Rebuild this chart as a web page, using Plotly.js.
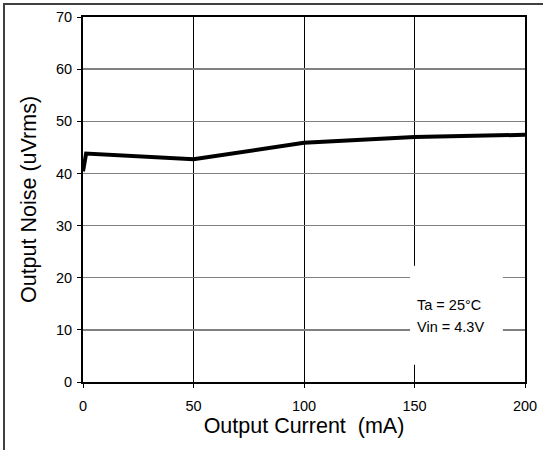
<!DOCTYPE html>
<html>
<head>
<meta charset="utf-8">
<script src="https://cdn.plot.ly/plotly-3.0.1.min.js"></script>
<style>
  html, body { margin: 0; padding: 0; background: #fff; }
  #wrap { position: relative; width: 543px; height: 450px; overflow: hidden; }
  #frame { position: absolute; left: 3px; top: 3px; width: 560px; height: 470px;
           border-left: 2px solid #404040; border-top: 2px solid #404040; pointer-events: none; }
  #chart { position: absolute; left: 0; top: 0; width: 543px; height: 450px; }
</style>
</head>
<body>
<div id="wrap">
  <div id="chart"></div>
  <div id="frame"></div>
</div>
<script>
// Data
const currentMA = [0, 1.4, 50, 100, 150, 200];
const noiseUVrms = [40.4, 43.8, 42.7, 45.9, 47.0, 47.4];
const xTicks = [0, 50, 100, 150, 200];
const yTicks = [0, 10, 20, 30, 40, 50, 60, 70];
const noteLines = ["Ta = 25°C", "Vin = 4.3V"];

const font = "Liberation Sans, Arial, sans-serif";

const trace = {
  x: currentMA,
  y: noiseUVrms,
  type: "scatter",
  mode: "lines",
  line: { color: "#000000", width: 4 },
  hoverinfo: "skip",
  showlegend: false
};

const layout = {
  width: 543,
  height: 450,
  margin: { l: 83, r: 18, t: 17, b: 68 },
  paper_bgcolor: "#ffffff",
  plot_bgcolor: "#ffffff",
  font: { family: font, color: "#000000", size: 14.5 },
  xaxis: {
    range: [0, 200],
    tickvals: xTicks,
    ticktext: xTicks.map(String),
    ticks: "outside",
    ticklen: 4,
    tickcolor: "#000000",
    tickwidth: 1,
    ticklabelstandoff: 6,
    showline: true,
    linecolor: "#000000",
    linewidth: 2,
    mirror: true,
    showgrid: true,
    gridcolor: "#000000",
    gridwidth: 1,
    zeroline: false,
    tickfont: { family: font, size: 14.5, color: "#000000" },
    title: { text: "Output Current&nbsp;&nbsp;(mA)", font: { family: font, size: 21.5, color: "#000000" }, standoff: 3 }
  },
  yaxis: {
    range: [0, 70],
    tickvals: yTicks,
    ticktext: yTicks.map(String),
    ticks: "outside",
    ticklen: 4,
    tickcolor: "#000000",
    tickwidth: 1,
    ticklabelstandoff: 2,
    showline: true,
    linecolor: "#000000",
    linewidth: 2,
    mirror: true,
    showgrid: true,
    gridcolor: "#808080",
    gridwidth: 1.5,
    zeroline: false,
    tickfont: { family: font, size: 14.5, color: "#000000" },
    title: { text: "Output Noise (uVrms)", font: { family: font, size: 21.5, color: "#000000" }, standoff: 13 }
  },
  shapes: [{
    type: "rect", xref: "x", yref: "y",
    x0: 148, x1: 190, y0: 3.3, y1: 22.3,
    fillcolor: "#ffffff", line: { width: 0 }, layer: "above"
  }],
  annotations: [
    {
      xref: "x", yref: "y",
      x: 150.2, y: 14.8,
      xanchor: "left", yanchor: "middle",
      align: "left",
      showarrow: false,
      text: noteLines[0],
      font: { family: font, size: 14.5, color: "#000000" }
    },
    {
      xref: "x", yref: "y",
      x: 150.2, y: 10.6,
      xanchor: "left", yanchor: "middle",
      align: "left",
      showarrow: false,
      text: noteLines[1],
      font: { family: font, size: 14.5, color: "#000000" }
    }
  ]
};

Plotly.newPlot("chart", [trace], layout, { staticPlot: true, displayModeBar: false });
</script>
</body>
</html>
